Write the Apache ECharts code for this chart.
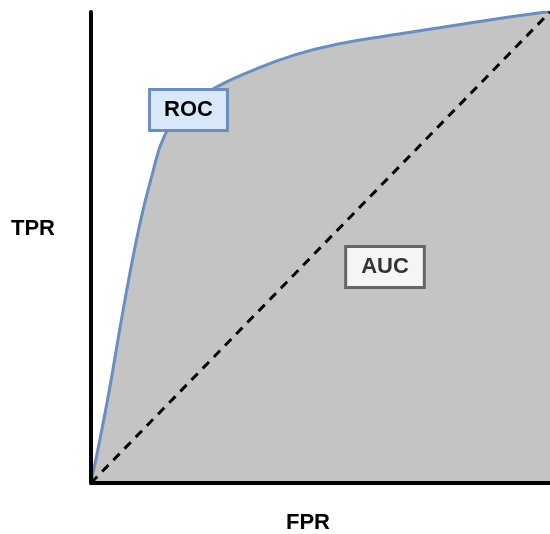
<!DOCTYPE html>
<html lang="en">

<head>
    <meta charset="UTF-8">
    <title>ROC / AUC</title>
    <script src="https://cdn.jsdelivr.net/npm/echarts@6/dist/echarts.min.js"></script>
    <style>
        html, body { margin: 0; padding: 0; background: #fff; }
        .roc { width: 550px; height: 534px; }
    </style>
</head>

<body>
    <div class="roc"></div>
</body>
<script>
    // ROC curve (FPR, TPR)
    const fpr = [0, 0.036, 0.072, 0.106, 0.132, 0.161, 0.2, 0.231, 0.274, 0.338, 0.444, 0.55, 0.656, 0.741, 0.868, 0.975, 1]
    const tpr = [0, 0.176, 0.378, 0.548, 0.65, 0.739, 0.79, 0.815, 0.841, 0.87, 0.909, 0.934, 0.951, 0.964, 0.983, 0.998, 1]
    // random classifier diagonal
    const diagFpr = [0, 1]
    const diagTpr = [0, 1]

    const axisLabels = { x: 'FPR', y: 'TPR' }
    const curveLabel = 'ROC'
    const areaLabel = 'AUC'

    let chart = echarts.init(document.querySelector('.roc'))
    const font = '"Liberation Sans", Arial, sans-serif'

    let option = {
        animation: false,
        grid: { left: 91, top: 12, width: 471, height: 471 },
        xAxis: {
            type: 'value', min: 0, max: 1, z: 5,
            axisLine: { show: true, lineStyle: { color: '#000', width: 4 } },
            axisTick: { show: false }, axisLabel: { show: false }, splitLine: { show: false }
        },
        yAxis: {
            type: 'value', min: 0, max: 1, z: 5,
            axisLine: { show: true, lineStyle: { color: '#000', width: 4 } },
            axisTick: { show: false }, axisLabel: { show: false }, splitLine: { show: false }
        },
        series: [{
            name: 'ROC',
            type: 'line',
            data: fpr.map((x, i) => [x, tpr[i]]),
            smooth: 0.5,
            symbol: 'none',
            lineStyle: { color: '#6c8ebf', width: 3 },
            areaStyle: { color: '#c4c4c4', opacity: 1 },
            z: 2
        }, {
            name: 'diag',
            type: 'line',
            data: diagFpr.map((x, i) => [x, diagTpr[i]]),
            symbol: 'none',
            lineStyle: { color: '#000', width: 3, type: [9, 7] },
            z: 3
        }],
        graphic: [{
            type: 'text', x: 33, y: 229,
            style: { text: axisLabels.y, font: 'bold 22px ' + font, fill: '#000', align: 'center', verticalAlign: 'middle' }
        }, {
            type: 'text', x: 308, y: 523,
            style: { text: axisLabels.x, font: 'bold 22px ' + font, fill: '#000', align: 'center', verticalAlign: 'middle' }
        }, {
            type: 'text', x: 188.5, y: 110, z: 10,
            style: {
                text: curveLabel, font: 'bold 22px ' + font, fill: '#000', align: 'center', verticalAlign: 'middle',
                backgroundColor: '#dae8fc', borderColor: '#6c8ebf', borderWidth: 3, padding: [8, 13], lineHeight: 22
            }
        }, {
            type: 'text', x: 385, y: 267, z: 10,
            style: {
                text: areaLabel, font: 'bold 22px ' + font, fill: '#333', align: 'center', verticalAlign: 'middle',
                backgroundColor: '#f5f5f5', borderColor: '#666', borderWidth: 3, padding: [8, 14], lineHeight: 22
            }
        }]
    }
    chart.setOption(option)
</script>

</html>
